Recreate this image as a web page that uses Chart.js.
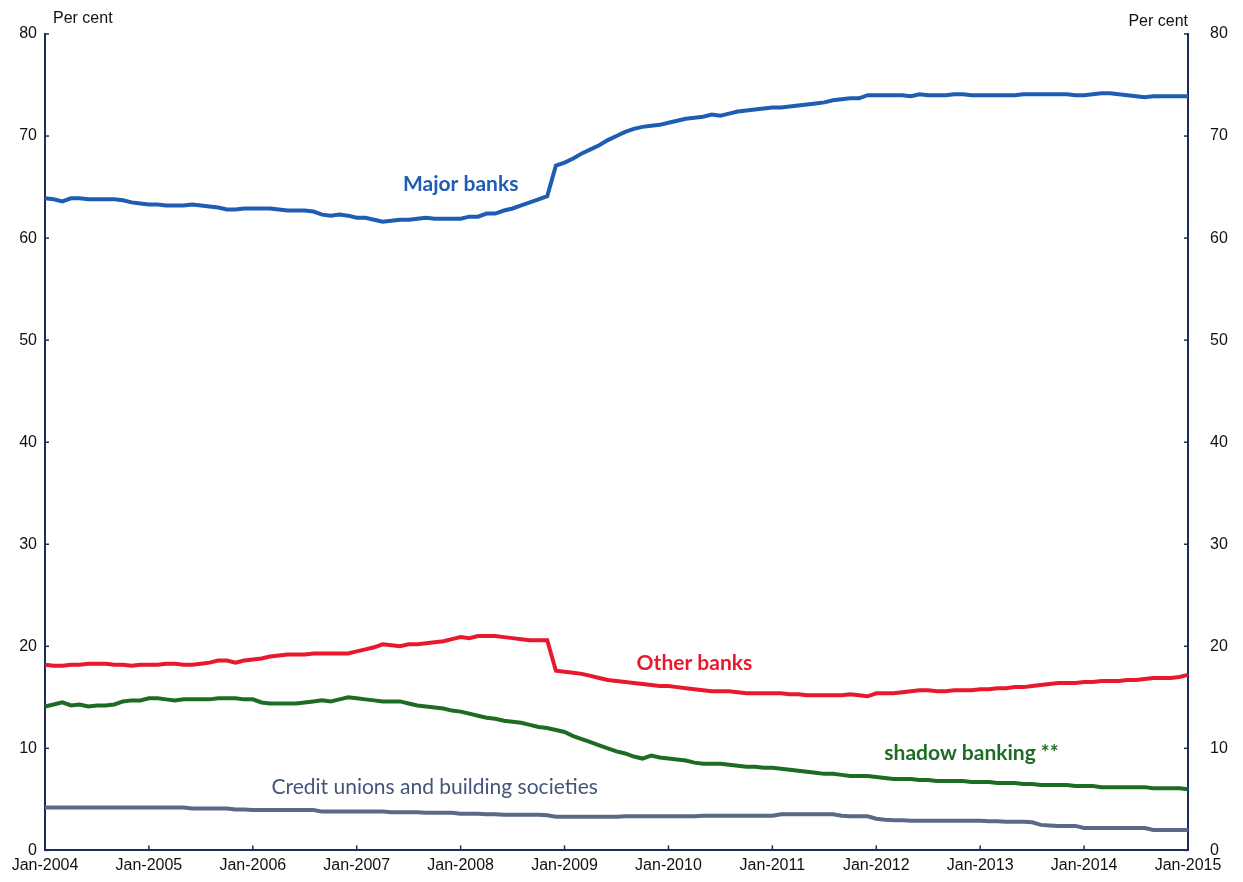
<!DOCTYPE html>
<html>
<head>
<meta charset="utf-8">
<script src="https://cdn.jsdelivr.net/npm/chart.js@4.4.1/dist/chart.umd.min.js"></script>
<style>
html,body{margin:0;padding:0;background:#fff;}
#wrap{position:relative;width:1243px;height:882px;}
</style>
</head>
<body>
<div id="wrap"><canvas id="c" width="1243" height="882"></canvas></div>
<script>
// ---- data (monthly, Jan-2004 .. Jan-2015) ----
const monthNames = ['Jan','Feb','Mar','Apr','May','Jun','Jul','Aug','Sep','Oct','Nov','Dec'];
const startYear = 2004;
const monthCount = 133;
const categories = [];
for (let i = 0; i < monthCount; i++) {
  categories.push(monthNames[i % 12] + '-' + (startYear + Math.floor(i / 12)));
}

const majorBanks = [
  63.9,63.8,63.6,63.9,63.9,63.8,63.8,63.8,63.8,63.7,63.5,63.4,
  63.3,63.3,63.2,63.2,63.2,63.3,63.2,63.1,63.0,62.8,62.8,62.9,
  62.9,62.9,62.9,62.8,62.7,62.7,62.7,62.6,62.3,62.2,62.3,62.2,
  62.0,62.0,61.8,61.6,61.7,61.8,61.8,61.9,62.0,61.9,61.9,61.9,
  61.9,62.1,62.1,62.4,62.4,62.7,62.9,63.2,63.5,63.8,64.1,67.1,
  67.4,67.8,68.3,68.7,69.1,69.6,70.0,70.4,70.7,70.9,71.0,71.1,
  71.3,71.5,71.7,71.8,71.9,72.1,72.0,72.2,72.4,72.5,72.6,72.7,
  72.8,72.8,72.9,73.0,73.1,73.2,73.3,73.5,73.6,73.7,73.7,74.0,
  74.0,74.0,74.0,74.0,73.9,74.1,74.0,74.0,74.0,74.1,74.1,74.0,
  74.0,74.0,74.0,74.0,74.0,74.1,74.1,74.1,74.1,74.1,74.1,74.0,
  74.0,74.1,74.2,74.2,74.1,74.0,73.9,73.8,73.9,73.9,73.9,73.9,
  73.9
];

const otherBanks = [
  18.2,18.1,18.1,18.2,18.2,18.3,18.3,18.3,18.2,18.2,18.1,18.2,
  18.2,18.2,18.3,18.3,18.2,18.2,18.3,18.4,18.6,18.6,18.4,18.6,
  18.7,18.8,19.0,19.1,19.2,19.2,19.2,19.3,19.3,19.3,19.3,19.3,
  19.5,19.7,19.9,20.2,20.1,20.0,20.2,20.2,20.3,20.4,20.5,20.7,
  20.9,20.8,21.0,21.0,21.0,20.9,20.8,20.7,20.6,20.6,20.6,17.6,
  17.5,17.4,17.3,17.1,16.9,16.7,16.6,16.5,16.4,16.3,16.2,16.1,
  16.1,16.0,15.9,15.8,15.7,15.6,15.6,15.6,15.5,15.4,15.4,15.4,
  15.4,15.4,15.3,15.3,15.2,15.2,15.2,15.2,15.2,15.3,15.2,15.1,
  15.4,15.4,15.4,15.5,15.6,15.7,15.7,15.6,15.6,15.7,15.7,15.7,
  15.8,15.8,15.9,15.9,16.0,16.0,16.1,16.2,16.3,16.4,16.4,16.4,
  16.5,16.5,16.6,16.6,16.6,16.7,16.7,16.8,16.9,16.9,16.9,17.0,
  17.2
];

const shadowBanking = [
  14.1,14.3,14.5,14.2,14.3,14.1,14.2,14.2,14.3,14.6,14.7,14.7,
  14.9,14.9,14.8,14.7,14.8,14.8,14.8,14.8,14.9,14.9,14.9,14.8,
  14.8,14.5,14.4,14.4,14.4,14.4,14.5,14.6,14.7,14.6,14.8,15.0,
  14.9,14.8,14.7,14.6,14.6,14.6,14.4,14.2,14.1,14.0,13.9,13.7,
  13.6,13.4,13.2,13.0,12.9,12.7,12.6,12.5,12.3,12.1,12.0,11.8,
  11.6,11.2,10.9,10.6,10.3,10.0,9.7,9.5,9.2,9.0,9.3,9.1,
  9.0,8.9,8.8,8.6,8.5,8.5,8.5,8.4,8.3,8.2,8.2,8.1,
  8.1,8.0,7.9,7.8,7.7,7.6,7.5,7.5,7.4,7.3,7.3,7.3,
  7.2,7.1,7.0,7.0,7.0,6.9,6.9,6.8,6.8,6.8,6.8,6.7,
  6.7,6.7,6.6,6.6,6.6,6.5,6.5,6.4,6.4,6.4,6.4,6.3,
  6.3,6.3,6.2,6.2,6.2,6.2,6.2,6.2,6.1,6.1,6.1,6.1,
  6.0
];

const creditUnions = [
  4.2,4.2,4.2,4.2,4.2,4.2,4.2,4.2,4.2,4.2,4.2,4.2,
  4.2,4.2,4.2,4.2,4.2,4.1,4.1,4.1,4.1,4.1,4.0,4.0,
  3.95,3.95,3.95,3.95,3.95,3.95,3.95,3.95,3.8,3.8,3.8,3.8,
  3.8,3.8,3.8,3.8,3.75,3.75,3.75,3.75,3.7,3.7,3.7,3.7,
  3.6,3.6,3.6,3.55,3.55,3.5,3.5,3.5,3.5,3.5,3.45,3.3,
  3.3,3.3,3.3,3.3,3.3,3.3,3.3,3.35,3.35,3.35,3.35,3.35,
  3.35,3.35,3.35,3.35,3.4,3.4,3.4,3.4,3.4,3.4,3.4,3.4,
  3.4,3.55,3.55,3.55,3.55,3.55,3.55,3.55,3.4,3.35,3.35,3.35,
  3.1,3.0,2.95,2.95,2.9,2.9,2.9,2.9,2.9,2.9,2.9,2.9,
  2.9,2.85,2.85,2.8,2.8,2.8,2.75,2.5,2.45,2.4,2.4,2.4,
  2.2,2.2,2.2,2.2,2.2,2.2,2.2,2.2,2.0,2.0,2.0,2.0,
  2.0
];

const yTicks = [0,10,20,30,40,50,60,70,80];
const yUnit = 'Per cent';

// series label annotations: [text, month index, value, colour, bold]
const seriesLabels = [
  ['Major banks', 48, 65.3, '#1f5cb3', true],
  ['Other banks', 75, 18.3, '#e8192c', true],
  ['shadow banking **', 107, 9.5, '#1e6b24', true],
  ['Credit unions and building societies', 45, 6.2, '#44557a', false]
];

const axisColor = '#1d2d55';
const tickFont = '"Liberation Sans", Arial, sans-serif';

const decorPlugin = {
  id: 'decor',
  afterDraw(chart) {
    const ctx = chart.ctx;
    const xs = chart.scales.x, yl = chart.scales.y;
    const area = chart.chartArea;
    ctx.save();
    ctx.strokeStyle = axisColor;
    ctx.lineWidth = 1.5;
    // inward y ticks
    yTicks.forEach(v => {
      const py = yl.getPixelForValue(v);
      ctx.beginPath(); ctx.moveTo(area.left, py); ctx.lineTo(area.left + 4, py); ctx.stroke();
      ctx.beginPath(); ctx.moveTo(area.right, py); ctx.lineTo(area.right - 4, py); ctx.stroke();
    });
    // inward x ticks at January
    categories.forEach((c, i) => {
      if (c.startsWith('Jan')) {
        const px = xs.getPixelForValue(i);
        ctx.beginPath(); ctx.moveTo(px, area.bottom); ctx.lineTo(px, area.bottom - 5); ctx.stroke();
      }
    });
    // unit labels
    ctx.fillStyle = '#111';
    ctx.font = '16px ' + tickFont;
    ctx.textBaseline = 'middle';
    ctx.textAlign = 'left';
    ctx.fillText(yUnit, area.left + 8, 19);
    ctx.textAlign = 'right';
    ctx.fillText(yUnit, area.right, 22);
    // series labels
    ctx.textAlign = 'center';
    seriesLabels.forEach(([t, m, v, col, bold]) => {
      ctx.fillStyle = col;
      ctx.font = (bold ? 'bold ' : '') + '21px Lato, "Open Sans", sans-serif';
      ctx.fillText(t, xs.getPixelForValue(m), yl.getPixelForValue(v));
    });
    ctx.restore();
  }
};

const mkDs = (label, data, color) => ({
  label, data, borderColor: color, backgroundColor: color,
  borderWidth: 4, pointRadius: 0, tension: 0, yAxisID: 'y'
});

new Chart(document.getElementById('c'), {
  type: 'line',
  data: {
    labels: categories,
    datasets: [
      mkDs('Major banks', majorBanks, '#1f5cb3'),
      mkDs('Other banks', otherBanks, '#e8192c'),
      mkDs('shadow banking **', shadowBanking, '#1e6b24'),
      mkDs('Credit unions and building societies', creditUnions, '#5a6988')
    ]
  },
  options: {
    responsive: false,
    animation: false,
    layout: { padding: { top: 34, left: 0, right: 0, bottom: 0 } },
    plugins: { legend: { display: false }, tooltip: { enabled: false } },
    scales: {
      x: {
        type: 'category',
        offset: false,
        grid: { display: false, drawTicks: false },
        border: { display: true, color: axisColor, width: 2 },
        ticks: {
          autoSkip: false, maxRotation: 0, minRotation: 0, padding: 6,
          color: '#111',
          font: { family: tickFont, size: 16 },
          callback: (v, i) => categories[i].startsWith('Jan') ? categories[i] : ''
        },
        afterFit: s => { s.height = 30; }
      },
      y: {
        position: 'left', min: 0, max: 80,
        afterBuildTicks: s => { s.ticks = yTicks.map(v => ({ value: v })); },
        grid: { display: false, drawTicks: false },
        border: { display: true, color: axisColor, width: 2 },
        ticks: { color: '#111', padding: 8, font: { family: tickFont, size: 16 } },
        afterFit: s => { s.width = 45; }
      },
      y2: {
        position: 'right', min: 0, max: 80,
        afterBuildTicks: s => { s.ticks = yTicks.map(v => ({ value: v })); },
        grid: { display: false, drawTicks: false },
        border: { display: true, color: axisColor, width: 2 },
        ticks: { color: '#111', padding: 22, font: { family: tickFont, size: 16 } },
        afterFit: s => { s.width = 55; }
      }
    }
  },
  plugins: [decorPlugin]
});
</script>
</body>
</html>
